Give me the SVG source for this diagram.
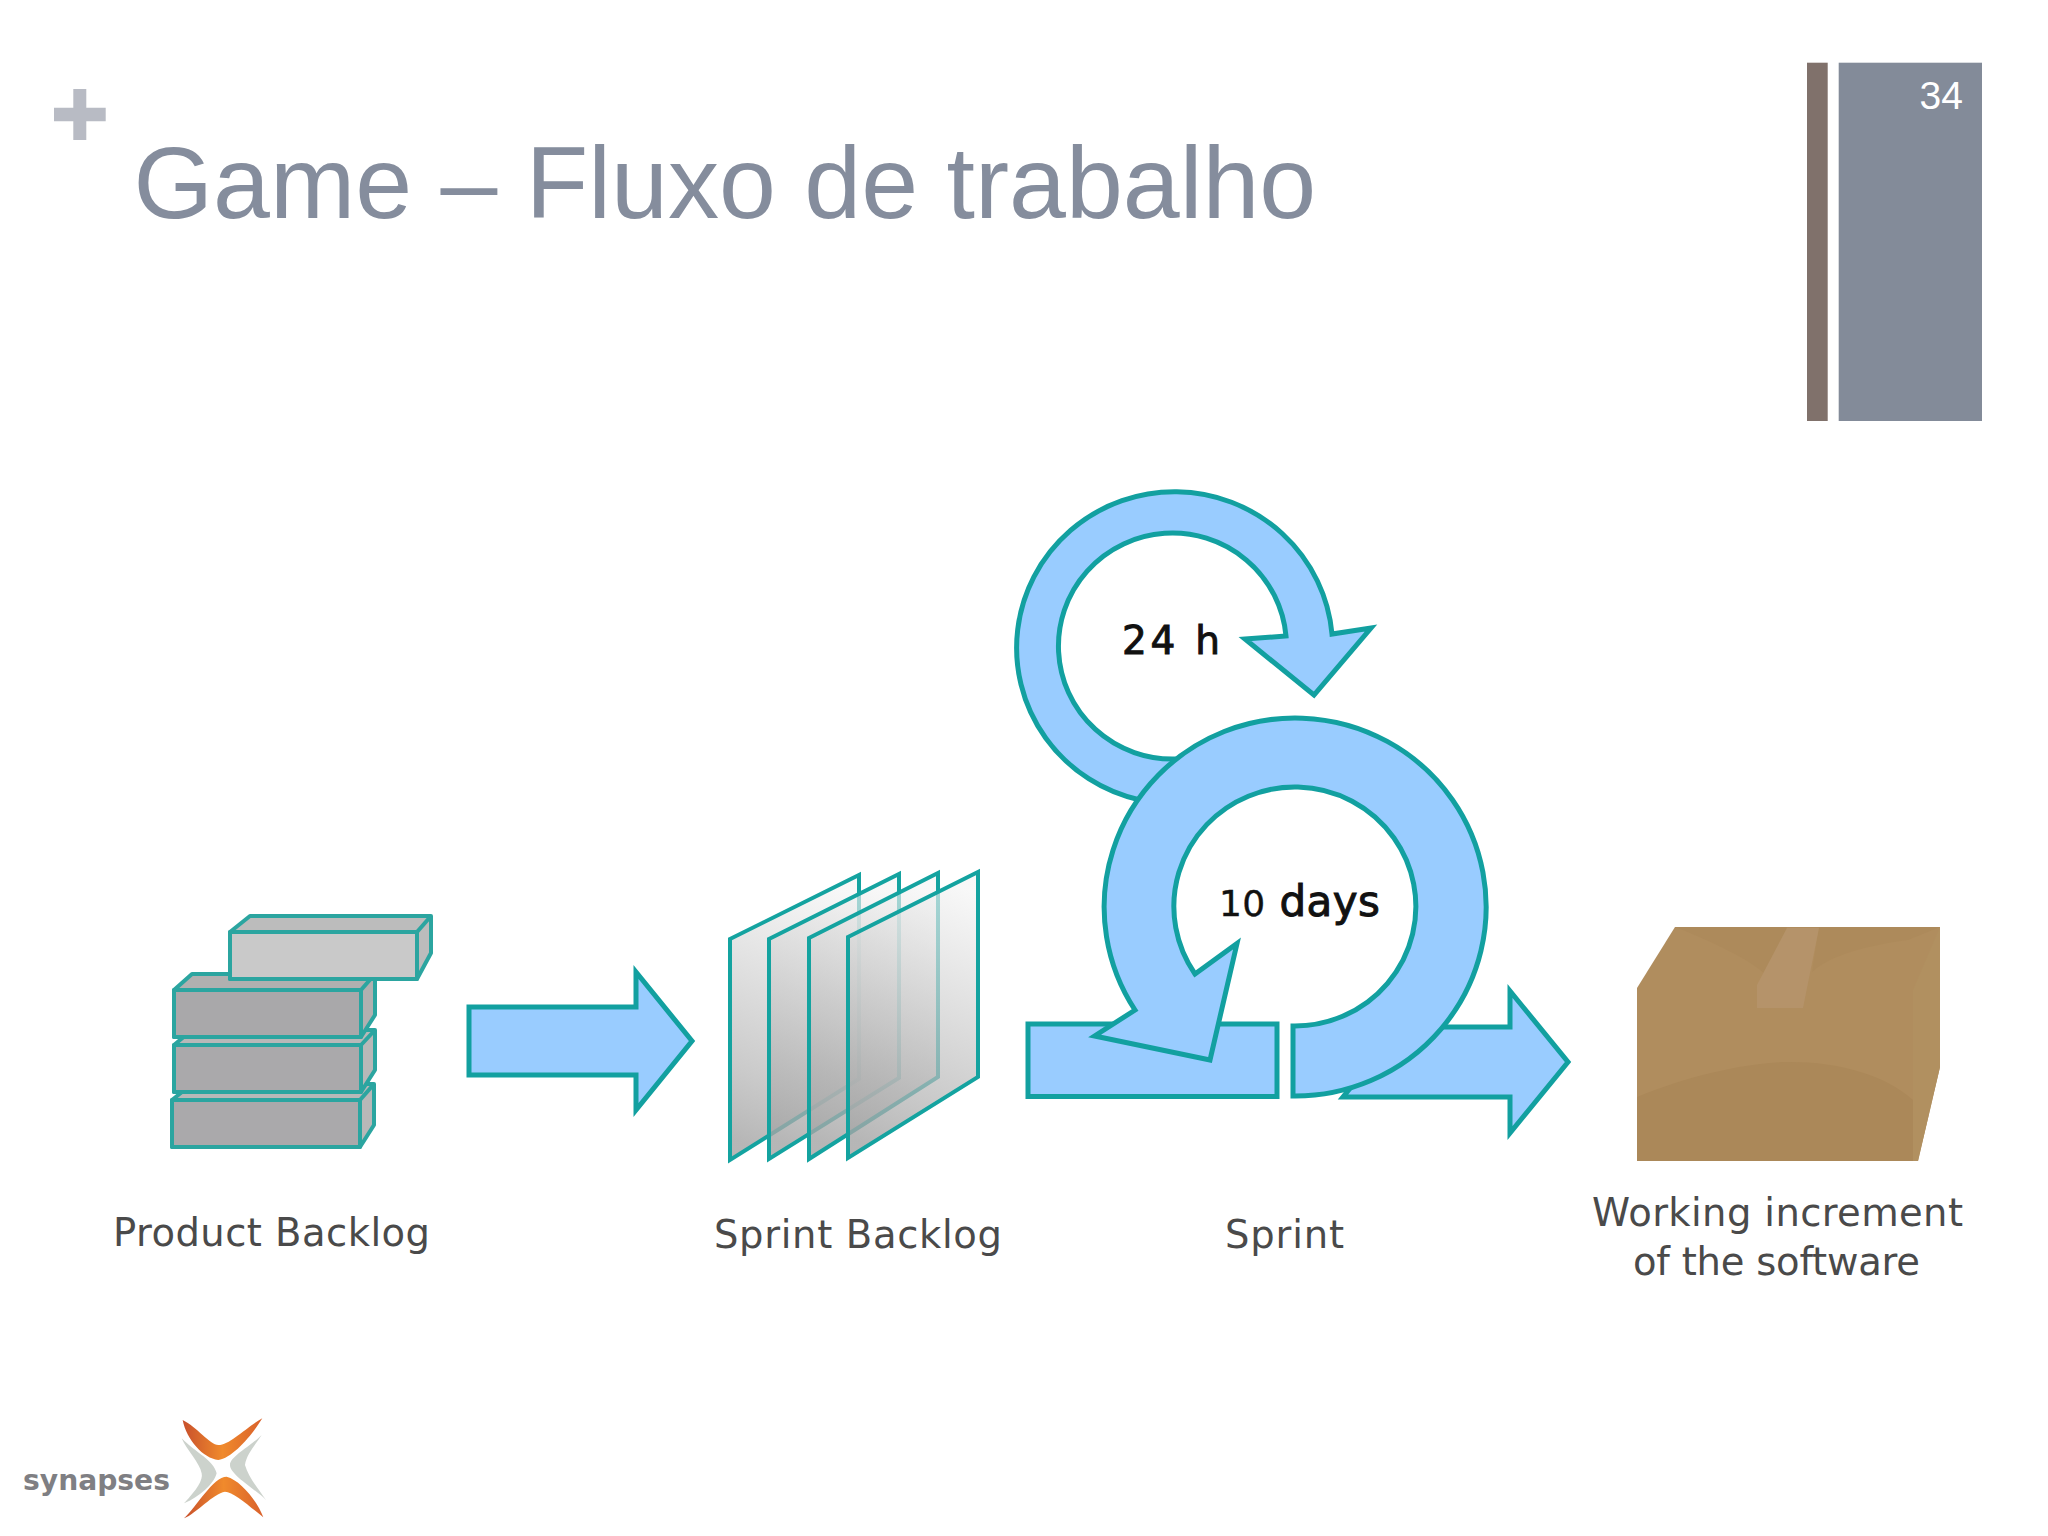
<svg xmlns="http://www.w3.org/2000/svg" width="2048" height="1536" viewBox="0 0 2048 1536">
<style>
.flow{fill:#99ccff;stroke:#12a0a0;stroke-width:5;stroke-linejoin:miter}
.blk{stroke:#2ba5a0;stroke-width:4;stroke-linejoin:round}
.pg{fill:url(#page);stroke:#14a3a0;stroke-width:4;stroke-linejoin:miter}
.lbl{font-family:"DejaVu Sans",sans-serif;font-size:38.500px;fill:#4a4a4a}
.cnt{font-family:"DejaVu Sans",sans-serif;fill:#111;stroke:#111;stroke-width:1}
</style>
<defs>
<linearGradient id="page" x1="0.6" y1="0" x2="0.4" y2="1"><stop offset="0" stop-color="#f4f4f4" stop-opacity=".65"/><stop offset=".75" stop-color="#b4b4b4" stop-opacity=".7"/><stop offset="1" stop-color="#a4a4a4" stop-opacity=".8"/></linearGradient>
<linearGradient id="orT" x1="0" y1="0" x2="1" y2="0"><stop offset="0" stop-color="#c8502c"/><stop offset=".5" stop-color="#f08a2c"/><stop offset="1" stop-color="#d9612c"/></linearGradient>
</defs>
<rect width="2048" height="1536" fill="#fff"/>
<g id="slide-frame">
<path d="M73.3 89h13v18.700h19.400v13.600h-19.400v18.700h-13v-18.700h-19.300v-13.600h19.300z" fill="#b8bbc4"/>
<text x="133.500" y="218" font-family="Liberation Sans,sans-serif" font-size="102.300" fill="#858d9d">Game – Fluxo de trabalho</text>
<rect x="1807" y="62.700" width="20.700" height="358.300" fill="#80716b"/>
<rect x="1838.700" y="62.700" width="143.300" height="358.300" fill="#838b99"/>
<text x="1963" y="109" text-anchor="end" font-family="Liberation Sans,sans-serif" font-size="39" fill="#fff">34</text>
</g>
<g id="connectors">
<path class="flow" d="M469 1007H636V972L692 1041L636 1110V1075H469Z"/>
<path class="flow" d="M1028 1024H1277V1096.500H1028Z"/>
<path class="flow" d="M1343 1097H1510V1133L1568 1062L1510 991V1027H1400Z"/>
</g>
<g id="product-backlog">
<g class="blk"><path d="M172 1100L192 1084H374V1125L360 1147H172Z" fill="#b8b8b8"/><path d="M360 1100L374 1084" fill="none"/><rect x="172" y="1100" width="188" height="47" fill="#aaa9ab"/></g>
<g class="blk"><path d="M174 1045L192 1030H375V1070L361 1092H174Z" fill="#b8b8b8"/><path d="M361 1045L375 1030" fill="none"/><rect x="174" y="1045" width="187" height="47" fill="#aaa9ab"/></g>
<g class="blk"><path d="M174 990L192 974H375V1015L361 1037H174Z" fill="#b0b0b0"/><path d="M361 990L375 974" fill="none"/><rect x="174" y="990" width="187" height="47" fill="#a9a8aa"/></g>
<g class="blk"><path d="M230 932L250 916H431V953L417 979H230Z" fill="#bcbcbc"/><path d="M417 932L431 916" fill="none"/><rect x="230" y="932" width="187" height="47" fill="#c9c9c9"/></g>
<text class="lbl" x="113" y="1246" textLength="317" lengthAdjust="spacing">Product Backlog</text>
</g>
<g id="sprint-backlog">
<path class="pg" d="M730 939L859 875V1079L730 1160Z"/>
<path class="pg" d="M769 939L899 874V1078L769 1159Z"/>
<path class="pg" d="M809 938L938 873V1077L809 1159Z"/>
<path class="pg" d="M848 937L978 872V1077L848 1158Z"/>
<text class="lbl" x="714" y="1248" textLength="288" lengthAdjust="spacing">Sprint Backlog</text>
</g>
<g id="sprint">
<path class="flow" d="M1245 639L1286 636A114 113 0 1 0 1176 759L1140 800A158 156 0 1 1 1332 634L1371 628L1314 695Z"/>
<path class="flow" d="M1293 1026A121 119.500 0 1 0 1195 974L1237 943.500L1210 1060L1094.600 1036L1135 1010A191 189 0 1 1 1293 1096Z"/>
<text class="cnt" x="1122" y="654" font-size="39" textLength="98" lengthAdjust="spacing">24 h</text>
<text class="cnt" x="1219" y="916" font-size="42" textLength="161" lengthAdjust="spacing"><tspan font-size="36" stroke-width=".4">10</tspan> days</text>
<text class="lbl" x="1225" y="1248" textLength="119" lengthAdjust="spacing">Sprint</text>
</g>
<g id="working-increment">
<path d="M1637 988L1675 927H1940V1067L1918 1161H1637Z" fill="#b08d5e"/>
<path d="M1637 1097C1690 1075 1750 1062 1790 1062C1840 1062 1885 1075 1913 1100V1161H1637Z" fill="#ab8859"/>
<path d="M1913 990L1940 927V1067L1918 1161H1913Z" fill="#b19060"/>
<path d="M1675 927H1787L1766 975C1750 960 1720 945 1675 927Z" fill="#ad8a5b"/>
<path d="M1819 927H1940L1908 940C1870 945 1830 955 1812 972Z" fill="#ad8a5b"/>
<path d="M1787 928H1819L1803 1008H1757V985Z" fill="#b5936a"/>
<text class="lbl" x="1592" y="1226" textLength="371" lengthAdjust="spacing">Working increment</text>
<text class="lbl" x="1633" y="1275" textLength="287" lengthAdjust="spacing">of the software</text>
</g>
<g id="logo">
<text x="23" y="1490" font-family="DejaVu Sans,sans-serif" font-weight="bold" font-size="29" fill="#7f7f83" textLength="147" lengthAdjust="spacingAndGlyphs">synapses</text>
<g transform="translate(0 1390) scale(.3333)">
<path d="M548 90C590 110 630 165 655 165C690 165 740 110 787 85C760 130 700 205 655 210C610 205 560 150 548 90Z" fill="url(#orT)"/>
<path d="M552 385C590 350 640 260 680 260C720 270 770 330 790 382C750 350 700 305 675 305C640 310 590 370 552 385Z" fill="url(#orT)"/>
<path d="M545 145C590 190 640 210 650 250C640 290 580 330 552 340C590 300 610 270 605 250C600 220 560 180 545 145Z" fill="#ccd2cc"/>
<path d="M785 135C750 170 690 200 690 225C690 255 770 300 798 330C770 290 745 260 735 225C740 190 770 160 785 135Z" fill="#ccd2cc"/>
</g>
</g>
</svg>
